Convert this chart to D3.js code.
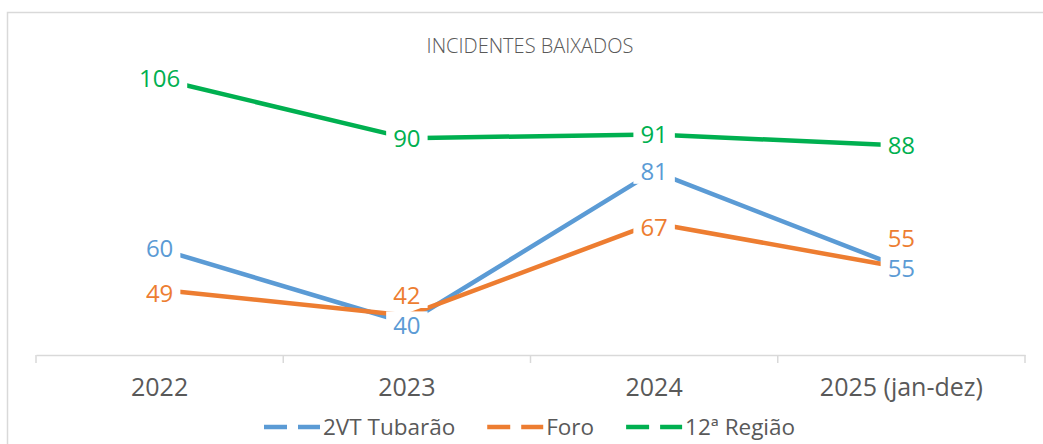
<!DOCTYPE html>
<html>
<head>
<meta charset="utf-8">
<script src="https://cdn.jsdelivr.net/npm/d3@7"></script>
<style>
  html, body { margin: 0; padding: 0; background: #fff; }
  svg { display: block; font-family: "Open Sans", "Noto Sans", sans-serif; }
</style>
</head>
<body>
<svg id="chart" width="1043" height="444"></svg>
<script>
// ---- data ----
const categories = ["2022", "2023", "2024", "2025 (jan-dez)"];
const tubarao = [60, 40, 81, 55];
const foro = [49, 42, 67, 55];
const regiao = [106, 90, 91, 88];
const seriesNames = ["2VT Tubarão", "Foro", "12ª Região"];
const chartTitle = "INCIDENTES BAIXADOS";

// ---- styles / layout ----
const colors = ["#5B9BD5", "#ED7D31", "#00B050"];
const seriesValues = [tubarao, foro, regiao];
// manual label nudges (pixels) for overlapping labels: [series][category]
const labelNudge = [[0, 3, 0, 1], [4, -20, 4, -29], [0, 0, 0, 0]];

const svg = d3.select("#chart");
const plot = { left: 36, right: 1025, top: 64, axisY: 355 };

// chart border
svg.append("rect")
  .attr("x", 7.5).attr("y", 12.5).attr("width", 1200).attr("height", 600)
  .attr("fill", "none").attr("stroke", "#d9d9d9").attr("stroke-width", 1.5);

// title
svg.append("text")
  .attr("x", 530).attr("y", 53)
  .attr("text-anchor", "middle")
  .attr("font-size", 20)
  .attr("font-weight", 300)
  .attr("fill", "#595959")
  .text(chartTitle);

// scales
const xBand = d3.scaleBand().domain(categories).range([plot.left, plot.right]).padding(0);
const x = d => xBand(d) + xBand.bandwidth() / 2;
const y = d3.scaleLinear().domain([40, 106]).range([323, 79]);

// axis
const axisG = svg.append("g").attr("transform", `translate(0,${plot.axisY})`);
axisG.call(d3.axisBottom(xBand).tickSize(0).tickPadding(23))
  .call(g => g.select(".domain").attr("stroke", "#d9d9d9").attr("stroke-width", 1.5))
  .call(g => g.selectAll(".tick text")
    .attr("font-family", "Open Sans, Noto Sans, sans-serif")
    .attr("font-size", 25).attr("fill", "#595959"));
const edges = categories.map(c => xBand(c)).concat([xBand(categories[categories.length - 1]) + xBand.bandwidth()]);
axisG.selectAll("line.edge").data(edges).enter().append("line")
  .attr("class", "edge")
  .attr("x1", d => d).attr("x2", d => d)
  .attr("y1", 0).attr("y2", 8)
  .attr("stroke", "#d9d9d9").attr("stroke-width", 1.5);

// lines
const lineGen = d3.line().x((d, i) => x(categories[i])).y(d => y(d));
seriesValues.forEach((vals, s) => {
  svg.append("path")
    .datum(vals)
    .attr("d", lineGen)
    .attr("fill", "none")
    .attr("stroke", colors[s])
    .attr("stroke-width", 4.5)
    .attr("stroke-linejoin", "round");
});

// labels with white boxes
const labelG = svg.append("g");
seriesValues.forEach((vals, s) => {
  vals.forEach((v, i) => {
    const g = labelG.append("g");
    const t = g.append("text")
      .attr("x", x(categories[i]))
      .attr("y", y(v) + labelNudge[s][i])
      .attr("dy", "0.35em")
      .attr("text-anchor", "middle")
      .attr("font-size", 24)
      .attr("fill", colors[s])
      .text(v);
    const bb = t.node().getBBox();
    g.insert("rect", "text")
      .attr("x", bb.x - 7).attr("y", bb.y + 3)
      .attr("width", bb.width + 14).attr("height", bb.height - 6)
      .attr("fill", "#fff");
  });
});

// legend
const legendY = 427;
const legend = svg.append("g");
const items = [];
let cursor = 0;
seriesNames.forEach((name, s) => {
  const g = legend.append("g");
  g.append("line")
    .attr("x1", 0).attr("x2", 56).attr("y1", 0).attr("y2", 0)
    .attr("stroke", colors[s]).attr("stroke-width", 4.5)
    .attr("stroke-dasharray", "23,11,22");
  const t = g.append("text")
    .attr("x", 59).attr("dy", "0.35em")
    .attr("font-size", 22.5).attr("fill", "#595959")
    .text(name);
  const w = 59 + t.node().getComputedTextLength();
  items.push({ g, x: cursor });
  cursor += w + 32;
});
const startX = 264;
items.forEach(it => it.g.attr("transform", `translate(${startX + it.x},${legendY})`));
</script>
</body>
</html>
